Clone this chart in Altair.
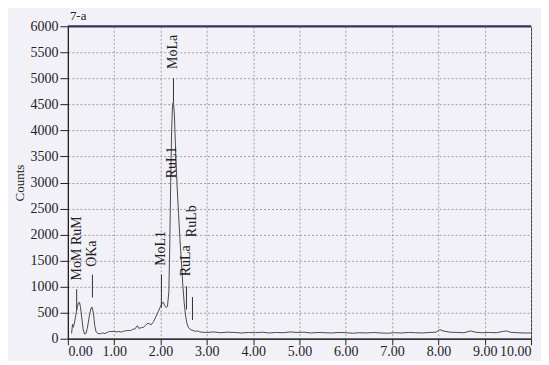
import altair as alt
import pandas as pd

# Spectrum (energy keV, counts)
energy = [0.08, 0.10, 0.12, 0.14, 0.17, 0.20, 0.23, 0.25, 0.27, 0.30, 0.33, 0.36, 0.39, 0.42,
          0.46, 0.50, 0.52, 0.55, 0.58, 0.61, 0.65, 0.70, 0.75, 0.80, 0.85, 0.90, 0.95, 1.00,
          1.05, 1.10, 1.15, 1.20, 1.25, 1.30, 1.35, 1.40, 1.45, 1.50, 1.53, 1.58, 1.63, 1.68,
          1.73, 1.77, 1.80, 1.85, 1.90, 1.95, 2.00, 2.03, 2.06, 2.09, 2.12, 2.15, 2.18, 2.20,
          2.22, 2.24, 2.26, 2.28, 2.30, 2.33, 2.36, 2.39, 2.42, 2.45, 2.48, 2.51, 2.54, 2.57,
          2.60, 2.65, 2.70, 2.75, 2.80, 2.85, 2.90, 3.00, 3.15, 3.30, 3.45, 3.60, 3.75, 3.90,
          4.05, 4.20, 4.35, 4.50, 4.65, 4.80, 4.95, 5.10, 5.25, 5.40, 5.55, 5.70, 5.85, 6.00,
          6.15, 6.30, 6.45, 6.60, 6.75, 6.90, 7.05, 7.20, 7.35, 7.50, 7.65, 7.80, 7.95, 8.03,
          8.10, 8.25, 8.40, 8.55, 8.70, 8.80, 8.95, 9.10, 9.25, 9.40, 9.47, 9.55, 9.70, 9.85,
          10.00]
counts = [100, 280, 220, 300, 450, 600, 690, 700, 620, 400, 180, 90, 100, 200,
          420, 590, 610, 500, 250, 130, 100, 95, 110, 100, 120, 140, 135, 145,
          130, 140, 125, 145, 150, 160, 155, 180, 190, 250, 200, 210, 220, 260,
          300, 280, 270, 330, 420, 520, 620, 680, 700, 640, 600, 620, 900, 1800,
          3000, 4000, 4500, 4550, 4300, 3500, 2900, 2400, 1900, 1500, 1050, 700, 450, 300,
          220, 170, 160, 140, 150, 130, 125, 120, 130, 115, 125, 120, 110, 120,
          115, 125, 110, 120, 115, 130, 120, 125, 110, 120, 115, 110, 120, 115,
          105, 115, 110, 120, 110, 105, 115, 110, 120, 115, 110, 120, 125, 175,
          150, 125, 120, 115, 150, 125, 115, 120, 115, 140, 150, 125, 115, 110,
          110]

# Peak markers
mark_label = ["MoM RuM", "OKa", "MoL1", "RuLa", "RuLb", "MoLa"]
mark_energy = [0.19, 0.53, 2.02, 2.56, 2.69, 2.28]
mark_low = [550, 790, 600, 560, 360, 4550]
mark_high = [950, 1230, 1230, 1010, 800, 5000]
mark_text_y = [1120, 1380, 1400, 1200, 1950, 5180]

extra_label = ["RuL1"]
extra_energy = [2.25]
extra_text_y = [3080]

x_ticks = [0, 1, 2, 3, 4, 5, 6, 7, 8, 9, 10]
y_ticks = [0, 500, 1000, 1500, 2000, 2500, 3000, 3500, 4000, 4500, 5000, 5500, 6000]

FONT = "Liberation Serif"

spec = pd.DataFrame({"e": energy, "c": counts})
marks = pd.DataFrame({"e": mark_energy, "lo": mark_low, "hi": mark_high,
                      "label": mark_label, "ty": mark_text_y})
texts = pd.DataFrame({"e": mark_energy + extra_energy,
                      "label": mark_label + extra_label,
                      "ty": mark_text_y + extra_text_y})

xs = alt.Scale(domain=[0, 10], nice=False)
ys = alt.Scale(domain=[0, 6000], nice=False)

xax = alt.Axis(values=x_ticks, format=".2f", title=None, grid=True, labelOverlap=False,
               tickCount=len(x_ticks) + 2,
               gridDash=[2, 2], gridColor="#8a8a8a", gridWidth=0.8,
               tickSize=6, tickColor="#222", domainColor="#222", domainWidth=1.2,
               labelFont=FONT, labelFontSize=14, labelColor="#222", labelPadding=0)
yax = alt.Axis(values=y_ticks, format="d", title="Counts", grid=True, labelOverlap=False,
               tickCount=len(y_ticks) + 2,
               gridDash=[2, 2], gridColor="#8a8a8a", gridWidth=0.8,
               tickSize=8, tickColor="#222", domainColor="#222", domainWidth=1.2,
               labelFont=FONT, labelFontSize=14, labelColor="#222", labelPadding=2,
               titleFont=FONT, titleFontSize=13, titleFontWeight="normal",
               titleColor="#222", titlePadding=3)

line = alt.Chart(spec).mark_line(color="#4a4a4a", strokeWidth=1).encode(
    x=alt.X("e:Q", scale=xs, axis=xax),
    y=alt.Y("c:Q", scale=ys, axis=yax),
)

rules = alt.Chart(marks).mark_rule(color="#333", strokeWidth=1).encode(
    x=alt.X("e:Q", scale=xs, axis=xax),
    y=alt.Y("lo:Q", scale=ys, axis=yax),
    y2="hi:Q",
)

labels = alt.Chart(texts).mark_text(
    angle=270, align="left", baseline="middle", font=FONT, fontSize=14, color="#222"
).encode(
    x=alt.X("e:Q", scale=xs, axis=xax),
    y=alt.Y("ty:Q", scale=ys, axis=yax),
    text="label:N",
)

top = alt.Chart(pd.DataFrame({"y": [6000]})).mark_rule(
    color="#3d2e5c", strokeWidth=2
).encode(y=alt.Y("y:Q", scale=ys, axis=yax))

tag = alt.Chart(pd.DataFrame({"t": ["7-a"]})).mark_text(
    align="left", baseline="bottom", font=FONT, fontSize=13, color="#222"
).encode(x=alt.value(2), y=alt.value(-3), text="t:N")

chart = alt.layer(line, rules, labels, top, tag).properties(
    width=464, height=313,
    autosize=alt.AutoSizeParams(type="none"),
    padding={"left": 60, "top": 18, "right": 10, "bottom": 22},
    background="#f3f1f8",
).configure_view(stroke="#333", strokeWidth=1)

chart.save("out.html", embed_options={"renderer": "svg", "actions": False})
